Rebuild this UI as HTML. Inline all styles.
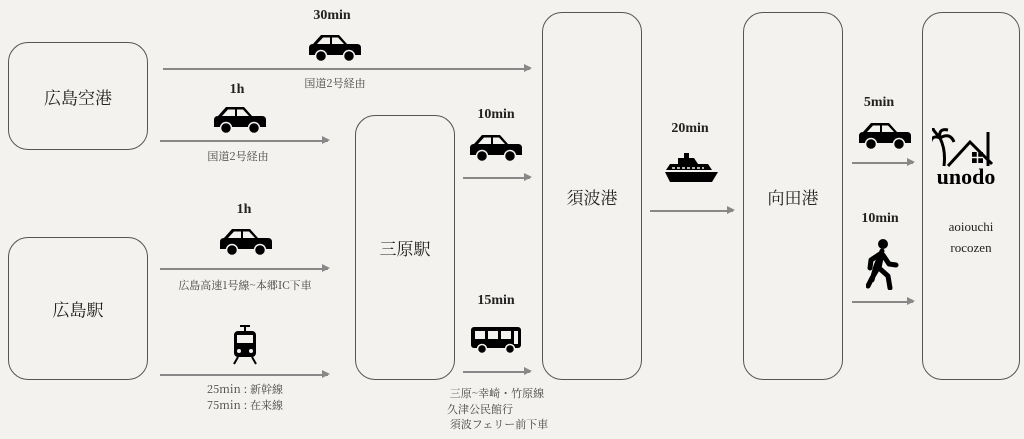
<!DOCTYPE html>
<html><head><meta charset="utf-8"><style>
body{margin:0;width:1024px;height:439px;background:#f4f2ee;position:relative;overflow:hidden;font-family:"Liberation Serif","Noto Serif CJK SC",serif;color:#222}
.b{position:absolute;border:1.5px solid #555;border-radius:20px;box-sizing:border-box;display:flex;align-items:center;justify-content:center;font-size:17px;font-family:"Noto Serif CJK SC",serif}
.a{position:absolute;height:1.5px;background:#888}
.a:after{content:"";position:absolute;right:-2px;top:-4px;border-left:8px solid #888;border-top:4.5px solid transparent;border-bottom:4.5px solid transparent}
.t{position:absolute;transform:translateX(-50%);white-space:nowrap;font-size:14px;font-weight:bold}
.s{position:absolute;transform:translateX(-50%);white-space:nowrap;font-size:11px;color:#444;font-family:"Noto Serif CJK SC",serif}
svg{position:absolute}
</style></head><body>
<svg width="0" height="0"><defs><g id="car"><path d="M4 11 L12 2 H30 L38 11 H48 Q52 11 52 15 V22 H0 V15 Q0 11 4 11Z" fill="#000"/><path d="M14 4.5 H21 V11 H8Z M23 4.5 H29 L35 11 H23Z" fill="#f4f2ee"/><circle cx="12" cy="23" r="5.5" fill="#000" stroke="#f4f2ee" stroke-width="1.5"/><circle cx="40" cy="23" r="5.5" fill="#000" stroke="#f4f2ee" stroke-width="1.5"/></g></defs></svg>
<div class="b" style="left:8px;top:42px;width:140px;height:108px">広島空港</div>
<div class="b" style="left:8px;top:237px;width:140px;height:143px">広島駅</div>
<div class="b" style="left:355px;top:115px;width:100px;height:265px">三原駅</div>
<div class="b" style="left:542px;top:12px;width:100px;height:368px">須波港</div>
<div class="b" style="left:743px;top:12px;width:100px;height:368px">向田港</div>
<div class="b" style="left:922px;top:12px;width:98px;height:368px"></div>

<div class="a" style="left:163px;top:68px;width:367px"></div>
<div class="t" style="left:332px;top:8px">30min</div>
<svg style="left:309px;top:33px" width="53" height="30"><use href="#car"/></svg>
<div class="s" style="left:335px;top:75px">国道2号経由</div>

<div class="a" style="left:160px;top:140px;width:168px"></div>
<div class="t" style="left:237px;top:82px">1h</div>
<svg style="left:214px;top:105px" width="53" height="30"><use href="#car"/></svg>
<div class="s" style="left:238px;top:148px">国道2号経由</div>

<div class="a" style="left:160px;top:268px;width:168px"></div>
<div class="t" style="left:244px;top:202px">1h</div>
<svg style="left:220px;top:227px" width="53" height="30"><use href="#car"/></svg>
<div class="s" style="left:245px;top:277px">広島高速1号線~本郷IC下車</div>

<div class="a" style="left:160px;top:374px;width:168px"></div>
<svg style="left:232px;top:325px" width="26" height="40"><rect x="2" y="6" width="22" height="26" rx="4" fill="#000"/><rect x="5" y="10" width="16" height="8" fill="#f4f2ee"/><circle cx="7" cy="26" r="2" fill="#f4f2ee"/><circle cx="19" cy="26" r="2" fill="#f4f2ee"/><path d="M8 1 H18 M13 1 V6 M6 32 L2 39 M20 32 L24 39" stroke="#000" stroke-width="2"/></svg>
<div class="s" style="left:245px;top:381px">25min : 新幹線</div>
<div class="s" style="left:245px;top:397px">75min : 在来線</div>

<div class="a" style="left:463px;top:177px;width:67px"></div>
<div class="t" style="left:496px;top:107px">10min</div>
<svg style="left:470px;top:133px" width="53" height="30"><use href="#car"/></svg>

<div class="a" style="left:463px;top:371px;width:67px"></div>
<div class="t" style="left:496px;top:293px">15min</div>
<svg style="left:470px;top:325px" width="52" height="30"><rect x="1" y="2" width="50" height="21" rx="3" fill="#000"/><rect x="5" y="6" width="10" height="8" fill="#f4f2ee"/><rect x="18" y="6" width="10" height="8" fill="#f4f2ee"/><rect x="31" y="6" width="10" height="8" fill="#f4f2ee"/><rect x="44" y="6" width="4" height="13" fill="#f4f2ee"/><circle cx="12" cy="24" r="4.5" fill="#000" stroke="#f4f2ee" stroke-width="1.5"/><circle cx="40" cy="24" r="4.5" fill="#000" stroke="#f4f2ee" stroke-width="1.5"/></svg>
<div class="s" style="left:497px;top:385px">三原~幸崎・竹原線</div>
<div class="s" style="left:480px;top:401px">久津公民館行</div>
<div class="s" style="left:499px;top:416px">須波フェリー前下車</div>

<div class="a" style="left:650px;top:210px;width:83px"></div>
<div class="t" style="left:690px;top:121px">20min</div>
<svg style="left:664px;top:150px" width="56" height="34"><path d="M14 8 H30 L34 14 H14Z" fill="#000"/><path d="M6 14 H44 L48 20 H2Z" fill="#000"/><path d="M1 22 H54 L48 32 H6Z" fill="#000"/><path d="M8 18 H40" stroke="#f4f2ee" stroke-width="1.5" stroke-dasharray="3 2"/><rect x="20" y="3" width="5" height="5" fill="#000"/></svg>

<div class="a" style="left:852px;top:162px;width:61px"></div>
<div class="t" style="left:879px;top:95px">5min</div>
<svg style="left:859px;top:121px" width="53" height="30"><use href="#car"/></svg>

<div class="a" style="left:852px;top:301px;width:61px"></div>
<div class="t" style="left:880px;top:211px">10min</div>
<svg style="left:866px;top:238px" width="34" height="52"><circle cx="17" cy="6" r="5" fill="#000"/><path d="M16 13 L10 28 L6 42 M15 20 L13 30 L22 38 L24 50 M14 16 L5 22 L4 30 M17 17 L23 26 L30 27 M12 30 L6 40 L2 48" stroke="#000" stroke-width="5" stroke-linecap="round" stroke-linejoin="round" fill="none"/></svg>

<svg style="left:932px;top:128px" width="68" height="60"><path d="M12 38 Q14 22 8 10 M8 10 Q0 6 -2 16 M8 10 Q6 0 16 2 M8 10 Q18 4 22 14 M8 10 Q-2 -2 2 2" stroke="#000" stroke-width="3" fill="none"/><path d="M16 38 L38 14 L60 36 M56 4 V38" stroke="#000" stroke-width="3" fill="none"/><rect x="40" y="24" width="11" height="11" fill="#000"/><path d="M45.5 24 V35 M40 29.5 H51" stroke="#f4f2ee" stroke-width="1.5"/><text x="34" y="56" font-size="22" font-weight="bold" text-anchor="middle" font-family="Liberation Serif,serif">unodo</text></svg>
<div class="t" style="left:971px;top:219px;font-weight:normal;font-size:13px">aoiouchi</div>
<div class="t" style="left:971px;top:240px;font-weight:normal;font-size:13px">rocozen</div>
</body></html>
